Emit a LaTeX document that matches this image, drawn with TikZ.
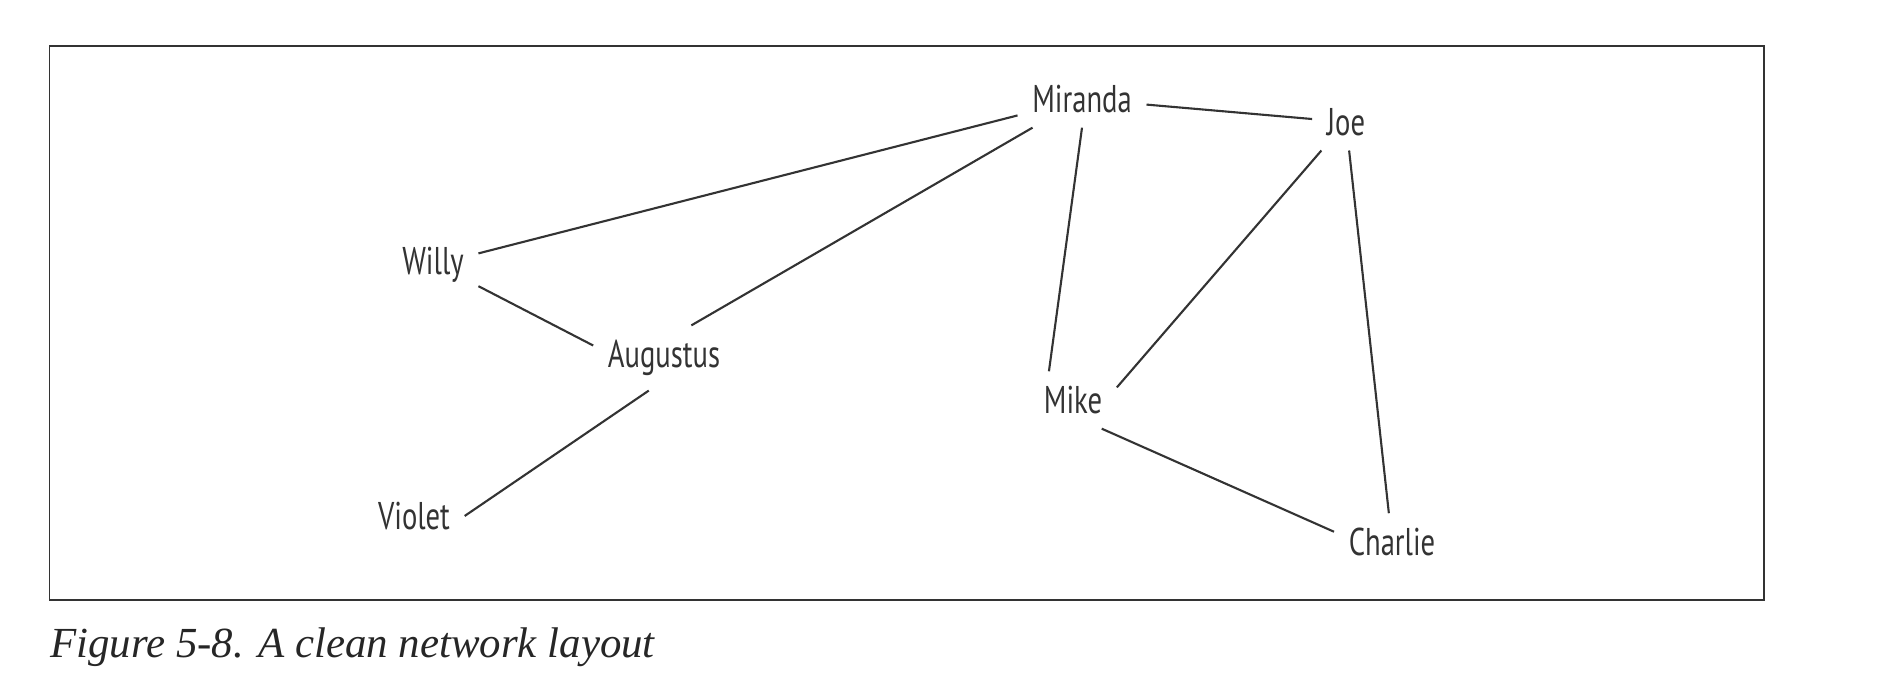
\documentclass[tikz,border=0pt]{standalone}
\usepackage{fontspec}
\newfontfamily\netfont[FakeStretch=0.74]{PT Sans}
\newfontfamily\capfont{Liberation Serif}
\usetikzlibrary{positioning}
\definecolor{inkgray}{HTML}{333333}

\begin{document}
\begin{tikzpicture}[every node/.style={font=\netfont\fontsize{11}{13}\selectfont,text=inkgray,inner sep=4pt},
  link/.style={draw=inkgray,line width=0.6pt}]
\useasboundingbox (0,0) rectangle (18.96,6.94);
\draw[inkgray,line width=0.5pt] (0.496,0.942) rectangle (17.642,6.481);
% people
\node (miranda) at (10.82,5.95) {Miranda};
\node (joe) at (13.46,5.72) {Joe};
\node (willy) at (4.33,4.29) {Willy};
\node (augustus) at (6.64,3.36) {Augustus};
\node (mike) at (10.73,2.94) {Mike};
\node (violet) at (4.14,1.78) {Violet};
\node (charlie) at (13.92,1.52) {Charlie};
% ties
\draw[link] (miranda) -- (willy);
\draw[link] (miranda) -- (augustus.50);
\draw[link] (miranda) -- (joe);
\draw[link] (miranda.south) -- (mike.130);
\draw[link] (joe) -- (mike.16);
\draw[link] (joe) -- (charlie);
\draw[link] (willy.-25) -- (augustus.170);
\draw[link] (augustus.245) -- (violet.east);
\draw[link] (mike.-45) -- (charlie.170);
\node[anchor=base west,inner sep=0pt,font=\capfont\itshape\fontsize{12.2}{15}\selectfont,text=black!85] (caption) at (0.496,0.36) {Figure 5-8. A clean network layout};
\end{tikzpicture}
\end{document}
